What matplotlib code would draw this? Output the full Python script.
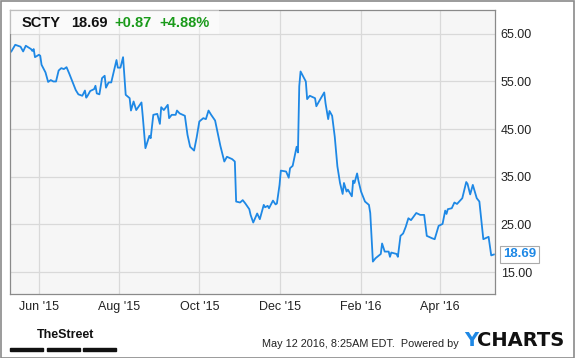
import numpy as np
import pandas as pd
import matplotlib
matplotlib.use("Agg")
import matplotlib.pyplot as plt
import matplotlib.dates as mdates
from matplotlib.patches import Rectangle

# SCTY daily close
dates = [
    "2015-05-11", "2015-05-14", "2015-05-18", "2015-05-20", "2015-05-22", "2015-05-26",
    "2015-05-27", "2015-05-28", "2015-05-29", "2015-06-01", "2015-06-02", "2015-06-03",
    "2015-06-06", "2015-06-08", "2015-06-10", "2015-06-12", "2015-06-14", "2015-06-16",
    "2015-06-18", "2015-06-20", "2015-06-22", "2015-06-24", "2015-06-27", "2015-06-29",
    "2015-07-01", "2015-07-04", "2015-07-06", "2015-07-07", "2015-07-08", "2015-07-10",
    "2015-07-13", "2015-07-14", "2015-07-15", "2015-07-17", "2015-07-19", "2015-07-21",
    "2015-07-22", "2015-07-24", "2015-07-26", "2015-07-30", "2015-07-31", "2015-08-02",
    "2015-08-04", "2015-08-06", "2015-08-09", "2015-08-10", "2015-08-12", "2015-08-14",
    "2015-08-18", "2015-08-19", "2015-08-21", "2015-08-24", "2015-08-25", "2015-08-27",
    "2015-08-30", "2015-09-01", "2015-09-02", "2015-09-04", "2015-09-07", "2015-09-08",
    "2015-09-10", "2015-09-13", "2015-09-14", "2015-09-16", "2015-09-20", "2015-09-22",
    "2015-09-24", "2015-09-27", "2015-09-29", "2015-10-01", "2015-10-04", "2015-10-06",
    "2015-10-08", "2015-10-10", "2015-10-13", "2015-10-15", "2015-10-17", "2015-10-20",
    "2015-10-22", "2015-10-26", "2015-10-28", "2015-10-29", "2015-11-01", "2015-11-03",
    "2015-11-05", "2015-11-08", "2015-11-09", "2015-11-11", "2015-11-14", "2015-11-16",
    "2015-11-19", "2015-11-20", "2015-11-22", "2015-11-23", "2015-11-26", "2015-11-28",
    "2015-11-29", "2015-12-01", "2015-12-02", "2015-12-06", "2015-12-08", "2015-12-09",
    "2015-12-11", "2015-12-14", "2015-12-15", "2015-12-16", "2015-12-17", "2015-12-21",
    "2015-12-22", "2015-12-24", "2015-12-28", "2015-12-29", "2015-12-31", "2016-01-04",
    "2016-01-05", "2016-01-07", "2016-01-08", "2016-01-10", "2016-01-12", "2016-01-14",
    "2016-01-16", "2016-01-18", "2016-01-19", "2016-01-21", "2016-01-22", "2016-01-25",
    "2016-01-26", "2016-01-27", "2016-01-29", "2016-01-30", "2016-02-01", "2016-02-04",
    "2016-02-07", "2016-02-08", "2016-02-10", "2016-02-12", "2016-02-16", "2016-02-17",
    "2016-02-19", "2016-02-22", "2016-02-23", "2016-02-24", "2016-02-28", "2016-02-29",
    "2016-03-02", "2016-03-04", "2016-03-06", "2016-03-08", "2016-03-10", "2016-03-14",
    "2016-03-17", "2016-03-20", "2016-03-22", "2016-03-26", "2016-03-28", "2016-03-31",
    "2016-04-03", "2016-04-05", "2016-04-06", "2016-04-07", "2016-04-10", "2016-04-12",
    "2016-04-14", "2016-04-18", "2016-04-21", "2016-04-22", "2016-04-24", "2016-04-26",
    "2016-04-29", "2016-05-01", "2016-05-04", "2016-05-08", "2016-05-10", "2016-05-12",
]
prices = [
    61.3, 62.7, 62.3, 61.3, 62.5, 61.8,
    61.4, 61.8, 60.1, 60.6, 60.4, 58.5,
    56.9, 54.9, 55.3, 55.0, 55.0, 57.3,
    57.8, 57.6, 58.0, 56.7, 54.6, 53.2,
    52.3, 52.0, 53.1, 51.6, 52.0, 53.0,
    53.4, 54.1, 52.5, 52.3, 55.7, 56.2,
    53.7, 54.8, 54.8, 59.5, 57.9, 57.9,
    60.1, 52.2, 51.5, 48.9, 50.8, 49.0,
    50.6, 47.6, 41.0, 43.6, 43.1, 48.0,
    48.2, 46.1, 49.6, 49.0, 50.1, 47.3,
    48.0, 48.0, 48.9, 48.3, 47.8, 43.8,
    41.3, 40.5, 43.3, 46.6, 47.3, 47.1,
    48.9, 48.0, 46.8, 44.1, 41.5, 38.2,
    39.2, 38.7, 38.2, 29.8, 29.6, 30.1,
    29.4, 28.2, 27.0, 25.4, 27.3, 26.1,
    29.1, 28.6, 28.9, 28.4, 30.0, 29.2,
    29.4, 33.3, 36.3, 36.1, 34.8, 36.8,
    37.3, 41.3, 40.1, 54.0, 57.1, 55.0,
    51.3, 52.0, 51.5, 49.8, 50.8, 52.7,
    50.4, 47.1, 48.8, 47.8, 43.4, 37.2,
    33.7, 31.4, 33.7, 31.9, 32.3, 30.9,
    34.2, 33.7, 35.7, 34.2, 31.9, 29.8,
    29.1, 27.4, 17.2, 17.9, 18.8, 21.0,
    19.3, 19.3, 18.2, 19.1, 18.8, 18.2,
    22.6, 23.1, 24.5, 26.3, 25.9, 27.4,
    27.0, 27.0, 22.6, 22.1, 21.9, 24.7,
    25.1, 27.9, 27.2, 28.2, 28.4, 29.6,
    29.3, 30.5, 33.9, 33.5, 31.3, 33.3,
    30.5, 29.8, 21.9, 22.4, 18.5, 18.69,
]

ticker = "SCTY"
last_price = "18.69"
change = "+0.87"
change_pct = "+4.88%"
y_ticks = [15, 25, 35, 45, 55, 65]
x_tick_dates = ["2015-06-01", "2015-08-01", "2015-10-01", "2015-12-01", "2016-02-01", "2016-04-01"]

x = pd.to_datetime(dates)
W, H = 575, 358
blue = "#1e88e5"
font = ["Liberation Sans", "DejaVu Sans"]
plt.rcParams["font.family"] = font

fig = plt.figure(figsize=(W / 100, H / 100), dpi=100)
fig.patch.set_facecolor("white")

ax = fig.add_axes([10 / W, 1 - 294 / H, 484.5 / W, 284 / H])
ax.set_facecolor("#f6f6f6")
ax.plot(x, prices, color=blue, lw=1.3, solid_joinstyle="round")

ax.set_xlim(pd.Timestamp("2015-05-10"), pd.Timestamp("2016-05-12 12:00"))
ax.set_ylim(10.4, 70.0)
ax.set_yticks(y_ticks)
ax.set_yticklabels([f"{v:.2f}" for v in y_ticks])
ax.set_xticks(pd.to_datetime(x_tick_dates))
ax.xaxis.set_major_formatter(mdates.DateFormatter("%b '%y"))
ax.yaxis.tick_right()
ax.tick_params(axis="both", length=0, labelsize=9, colors="#222222")
ax.tick_params(axis="y", pad=4.5)
ax.tick_params(axis="x", pad=5)
ax.grid(True, color="#d9d9d9", lw=0.9)
ax.set_axisbelow(True)
for s in ax.spines.values():
    s.set_color("#8a8a8a")
    s.set_linewidth(0.9)

# translucent header box and quote
ax.add_patch(Rectangle((0, 1 - 24 / 284), 209 / 484.5, 24 / 284, transform=ax.transAxes,
                       facecolor="white", alpha=0.45, edgecolor="none", zorder=3))
hy = 1 - 23 / H
fig.text(22 / W, hy, ticker, fontsize=10.5, fontweight="bold", color="#111111", va="center", zorder=5)
fig.text(71 / W, hy, last_price, fontsize=10.5, fontweight="bold", color="#111111", va="center", zorder=5)
fig.text(114 / W, hy, change, fontsize=10.5, fontweight="bold", color="#1a9a1a", va="center", zorder=5)
fig.text(159 / W, hy, change_pct, fontsize=10.5, fontweight="bold", color="#1a9a1a", va="center", zorder=5)

# last value flag
ax.annotate(last_price, xy=(x[-1], prices[-1]), xytext=(6.5, 0), textcoords="offset points",
            fontsize=9.5, fontweight="bold", color=blue, va="center", ha="left",
            bbox=dict(boxstyle="square,pad=0.2", fc="white", ec="#aaaaaa", lw=0.8),
            annotation_clip=False, zorder=6)

# footer
fig.text(37 / W, 1 - 335 / H, "TheStreet", fontsize=9, fontweight="bold",
         family=["Liberation Sans Narrow", "Liberation Sans"], color="#111111", va="center")
for x0, x1 in [(10, 42.5), (46.5, 79.5), (83, 116)]:
    fig.add_artist(Rectangle((x0 / W, 1 - 350.5 / H), (x1 - x0) / W, 2.4 / H,
                             transform=fig.transFigure, color="#111111"))
fig.text(459 / W, 1 - 344 / H, "May 12 2016, 8:25AM EDT.  Powered by", fontsize=7.8,
         color="#222222", ha="right", va="center")
fig.text(478 / W, 1 - 341 / H, "Y", fontsize=14, fontweight="bold", color=blue,
         family=["DejaVu Sans"], ha="right", va="center")
fig.text(564 / W, 1 - 341 / H, "CHARTS", fontsize=14, fontweight="bold", color="#111111",
         family=["DejaVu Sans"], ha="right", va="center")

# outer frame
fig.add_artist(Rectangle((0.5 / W, 0.5 / H), (W - 1.5) / W, (H - 1.5) / H, transform=fig.transFigure,
                         fill=False, edgecolor="#8a8a8a", lw=1.2))

fig.savefig("out.png", dpi=100)
